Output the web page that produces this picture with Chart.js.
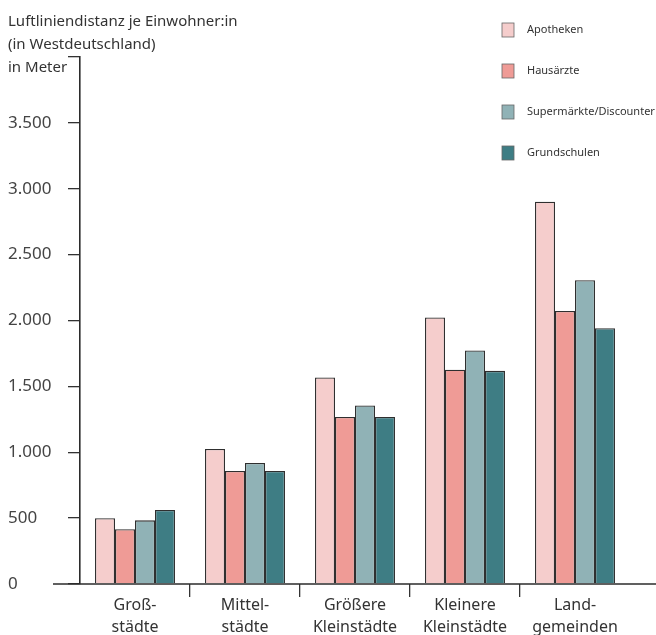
<!DOCTYPE html>
<html lang="de">
<head>
<meta charset="utf-8">
<title>Luftliniendistanz je Einwohner:in</title>
<script src="https://cdn.jsdelivr.net/npm/chart.js@4.4.1/dist/chart.umd.min.js"></script>
<style>
  html, body { margin: 0; padding: 0; background: #fff; }
  #wrap { width: 656px; height: 635px; position: relative; }
</style>
</head>
<body>
<div id="wrap"><canvas id="chart"></canvas></div>
<script>
// Gemeindetypen (x-Achse)
const categories = [
  ["Groß-", "städte"],
  ["Mittel-", "städte"],
  ["Größere", "Kleinstädte"],
  ["Kleinere", "Kleinstädte"],
  ["Land-", "gemeinden"]
];

// Luftliniendistanz in Metern
const apotheken    = [500, 1025, 1568, 2023, 2902];
const hausaerzte   = [415,  858, 1268, 1627, 2073];
const supermaerkte = [483,  918, 1355, 1772, 2306];
const grundschulen = [562,  858, 1268, 1618, 1941];

const seriesNames = ["Apotheken", "Hausärzte", "Supermärkte/Discounter", "Grundschulen"];
const seriesColors = ["#f5cdcc", "#ef9b96", "#90b2b6", "#3e7d84"];

const yMin = 0, yMax = 4000, yStep = 500;
const titleLines = ["Luftliniendistanz je Einwohner:in", "(in Westdeutschland)", "in Meter"];

const FONT = "'Noto Sans', 'DejaVu Sans', sans-serif";

function dePoints(v) {
  return String(v).replace(/\B(?=(\d{3})+(?!\d))/g, ".");
}

// Title, extended x axis line and legend
const decoPlugin = {
  id: "deco",
  afterDraw(chart) {
    const ctx = chart.ctx;
    const area = chart.chartArea;
    ctx.save();

    // x axis runs past the plot on both sides
    ctx.strokeStyle = "#2b2b2b";
    ctx.lineWidth = 1.6;
    ctx.beginPath();
    ctx.moveTo(area.left - 27, area.bottom);
    ctx.lineTo(chart.width, area.bottom);
    ctx.stroke();

    ctx.fillStyle = "#333";
    ctx.font = "15px " + FONT;
    ctx.textBaseline = "middle";
    ctx.textAlign = "left";
    titleLines.forEach((t, i) => ctx.fillText(t, 8, 22 + i * 23));

    // legend
    ctx.font = "11px " + FONT;
    chart.data.datasets.forEach((ds, i) => {
      const y = 30 + i * 41;
      ctx.fillStyle = ds.backgroundColor;
      ctx.fillRect(502, y - 7, 12, 14);
      ctx.strokeStyle = "#666";
      ctx.lineWidth = 0.8;
      ctx.strokeRect(502, y - 7, 12, 14);
      ctx.fillStyle = "#333";
      ctx.fillText(ds.label, 527, y);
    });
    ctx.restore();
  }
};

const values = [apotheken, hausaerzte, supermaerkte, grundschulen];

new Chart(document.getElementById("chart"), {
  type: "bar",
  data: {
    labels: categories,
    datasets: values.map((v, i) => ({
      label: seriesNames[i],
      data: v,
      backgroundColor: seriesColors[i],
      borderColor: "#2f2f2f",
      borderWidth: 1.3,
      barPercentage: 1.0,
      categoryPercentage: 0.727
    }))
  },
  options: {
    responsive: true,
    maintainAspectRatio: false,
    animation: false,
    layout: { padding: { left: 8, right: 26, top: 57, bottom: 0 } },
    plugins: {
      legend: { display: false },
      title: { display: false },
      tooltip: { enabled: false }
    },
    scales: {
      x: {
        afterFit(scale) { scale.height = 51; },
        border: { display: false },
        grid: {
          offset: true,
          drawOnChartArea: false,
          tickLength: 13,
          lineWidth: 1.3,
          color: c => (c.type !== "tick" || c.index === 0) ? "rgba(0,0,0,0)" : "#333"
        },
        ticks: {
          color: "#333",
          font: { family: FONT, size: 16, lineHeight: 1.38 },
          padding: -3,
          maxRotation: 0,
          autoSkip: false
        }
      },
      y: {
        min: yMin,
        max: yMax,
        afterFit(scale) { scale.width = 72; },
        border: { display: true, color: "#2b2b2b", width: 1.6 },
        grid: {
          drawOnChartArea: false,
          tickLength: 12,
          lineWidth: 1.3,
          color: "#333"
        },
        ticks: {
          stepSize: yStep,
          crossAlign: "far",
          color: "#444",
          font: { family: FONT, size: 17 },
          callback: v => (v === yMax ? "" : dePoints(v))
        }
      }
    }
  },
  plugins: [decoPlugin]
});
</script>
</body>
</html>
